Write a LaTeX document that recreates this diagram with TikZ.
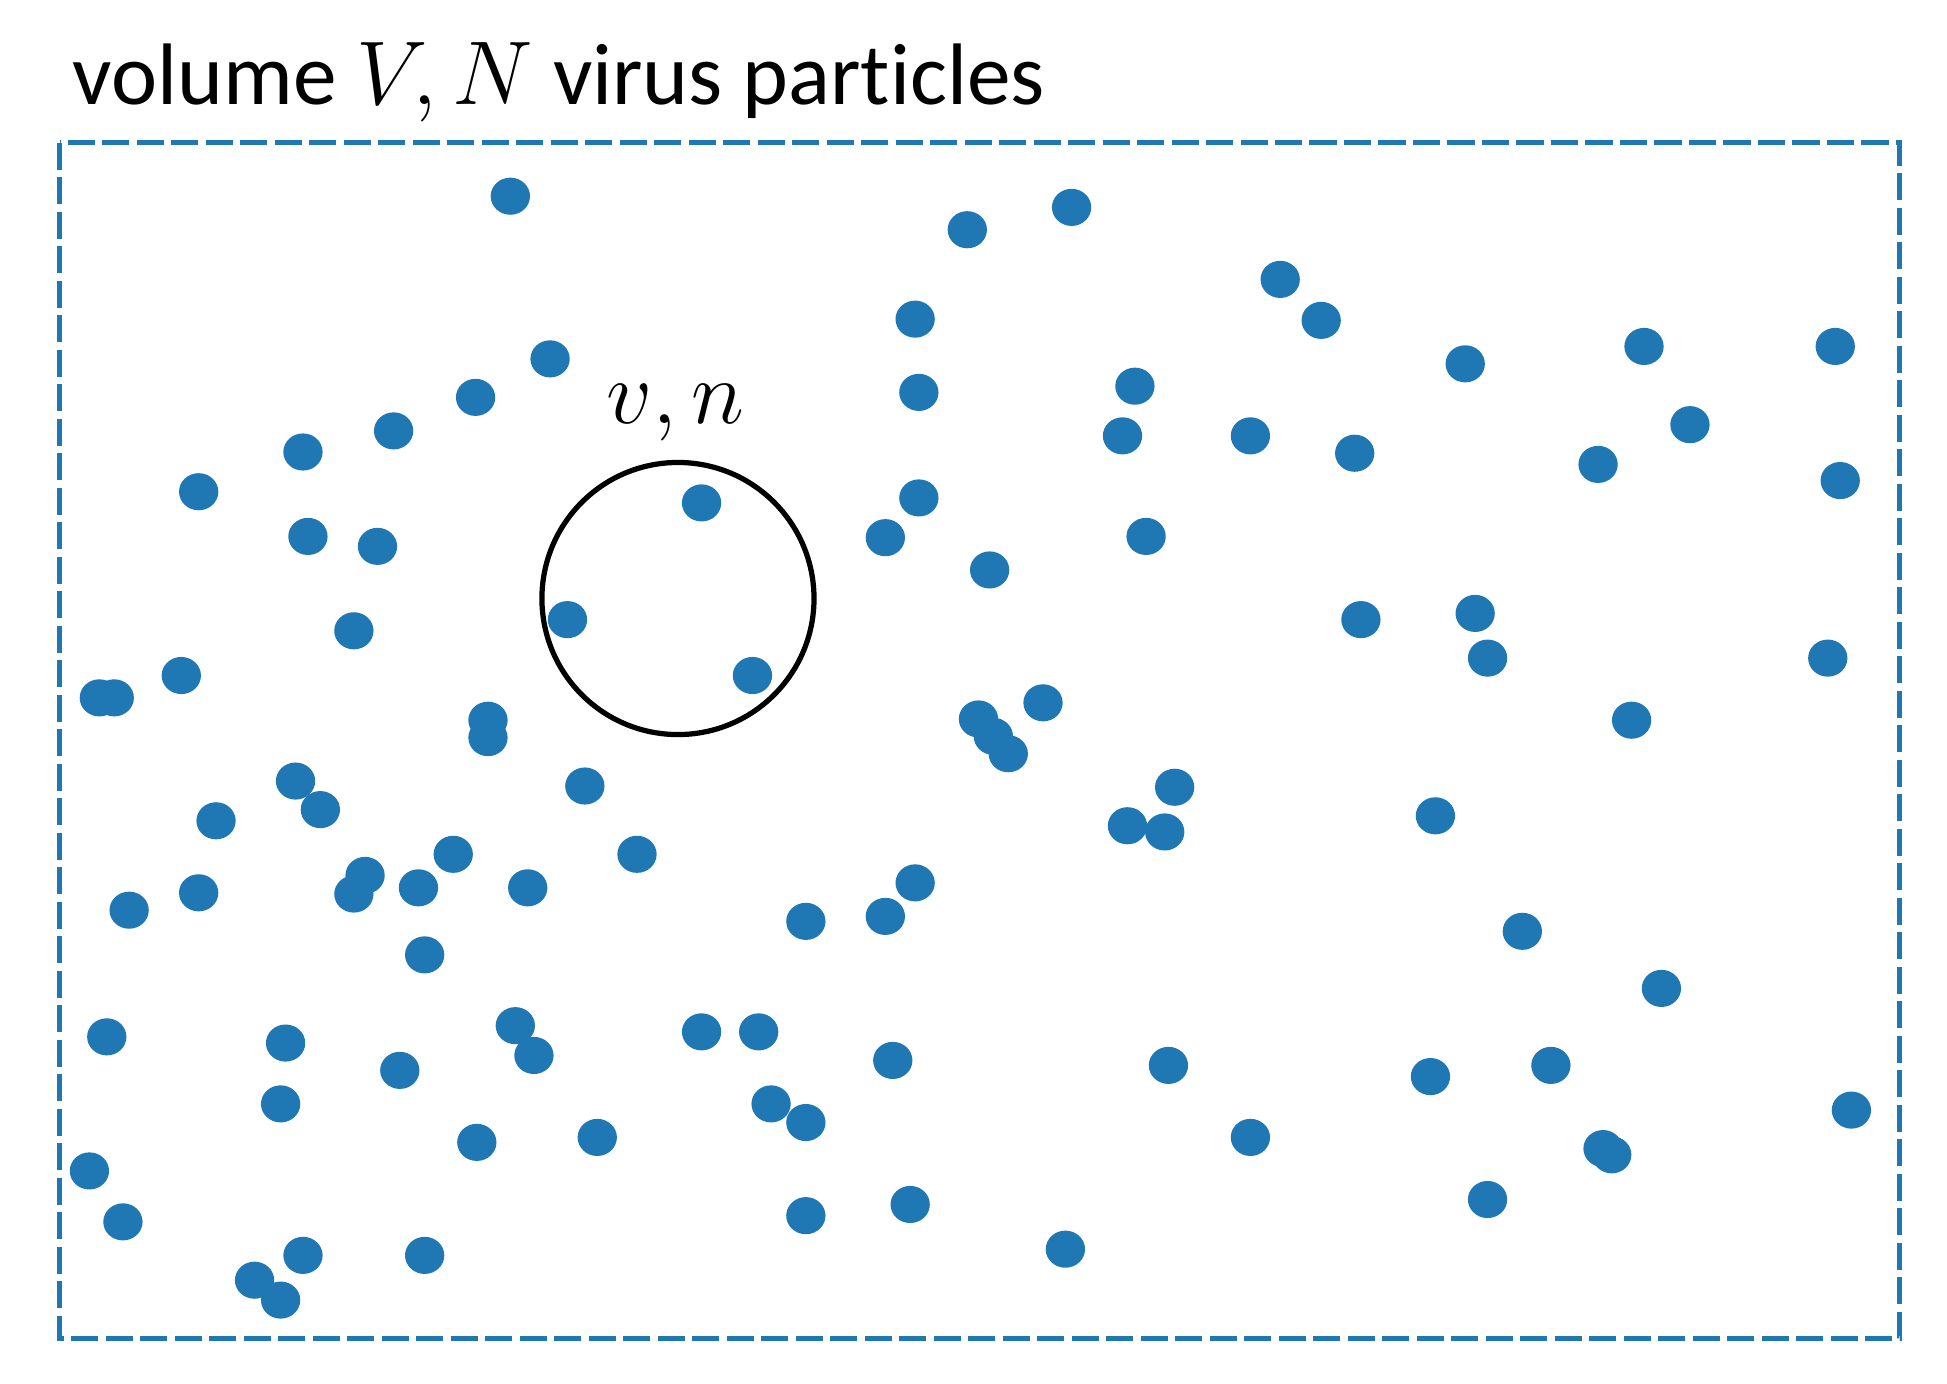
\documentclass[tikz,border=0pt]{standalone}
\usepackage{fontspec}
\setmainfont{Carlito}[RawFeature={-liga;-dlig}]
\definecolor{dotblue}{HTML}{1F77B4}
\begin{document}
\begin{tikzpicture}[x=0.01cm,y=-0.01cm,
  particle/.style={fill=dotblue,draw=none},
  boxline/.style={draw=dotblue,line width=1.1pt,dash pattern=on 6.2pt off 1.7pt},
  sample/.style={draw=black,circle,line width=1.2pt,minimum size=2.19cm,inner sep=0pt},
  lbl/.style={font=\fontsize{20}{24}\selectfont,inner sep=0pt}]
\useasboundingbox (0,0) rectangle (1568,1114);
\fill[white] (0,0) rectangle (1568,1114);
\coordinate (boxA) at (48,115);
\coordinate (boxB) at (1530,1078);
\draw[boxline] (boxA) rectangle (boxB);
\foreach \px/\py in {
 411/158, 779/185, 863/167, 1031/225, 1064/258, 737/257, 443/289, 383/320,
 317/347, 244/364, 160/396, 740/316, 914/311, 904/351, 1007/351, 1091/365,
 1180/293, 1324/279, 1478/279, 1361/342, 1287/374, 1482/387, 565/405, 740/401,
 713/433, 923/432, 797/459, 248/432, 304/440, 457/499, 606/544, 285/508,
 146/544, 80/562, 92/562, 1096/499, 1188/494, 1198/530, 1472/530, 1314/580,
 393/580, 393/594, 788/579, 800/593, 812/607, 840/566, 238/629, 258/652,
 174/661, 471/633, 946/634, 908/665, 938/670, 1156/657, 365/688, 513/688,
 294/705, 285/720, 337/715, 425/715, 160/719, 104/733, 737/711, 713/738,
 649/742, 1226/750, 342/769, 1338/796, 86/835, 230/840, 415/826, 430/850,
 565/831, 611/831, 719/854, 941/858, 1152/867, 1249/858, 322/862, 226/889,
 621/889, 649/904, 1491/894, 384/920, 481/916, 1007/916, 1291/925, 1298/930,
 72/943, 99/984, 649/979, 733/970, 1198/966, 858/1006, 244/1011, 342/1011,
 205/1031, 226/1047}
 \fill[particle] (\px,\py) ellipse [x radius=4.5pt, y radius=4.25pt];
\node[sample] (region) at (546,482) {};
\node[lbl,anchor=base] (vn) at (544,341) {$v, n$};
\node[lbl,anchor=base west] (title) at (58,84) {volume $V, N$ virus particles};
\end{tikzpicture}
\end{document}
